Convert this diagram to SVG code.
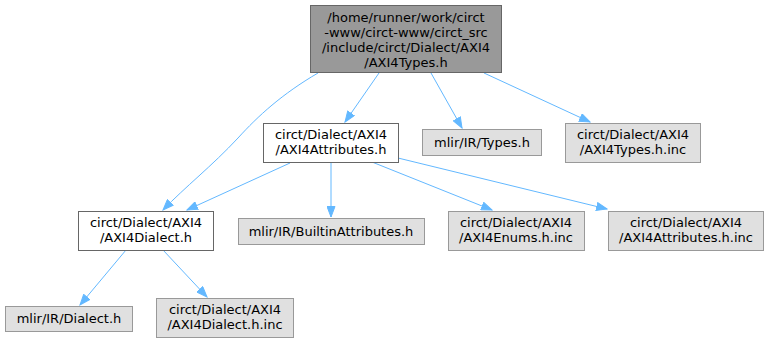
<svg xmlns="http://www.w3.org/2000/svg" width="769" height="344" viewBox="0 0 769 344">
<style>
.n rect{stroke:#999999;stroke-width:1;fill:#e0e0e0}
.w rect{fill:#ffffff;stroke:#666666}
.top rect{fill:#999999;stroke:#666666}
text{font-family:"DejaVu Sans",sans-serif;font-size:13px;fill:#000;text-anchor:middle}
.e path{fill:none;stroke:#63b8ff;stroke-width:1}
</style>
<defs>
<marker id="a" markerUnits="userSpaceOnUse" markerWidth="12" markerHeight="9" refX="11" refY="4.5" orient="auto">
<path d="M0.5,0.5 L11,4.5 L0.5,8.5 z" fill="#63b8ff" stroke="#63b8ff" stroke-width="1"/>
</marker>
</defs>
<g class="e" id="edges">
<path marker-end="url(#a)" d="M318,73 C282,94 258,116 238,138 C212,166 185,187 163,210"/>
<path marker-end="url(#a)" d="M379,73 L345,122"/>
<path marker-end="url(#a)" d="M431,73 L462,128"/>
<path marker-end="url(#a)" d="M484,73 L590,122"/>
<path marker-end="url(#a)" d="M290,163 L187,210"/>
<path marker-end="url(#a)" d="M331,162 L331,217"/>
<path marker-end="url(#a)" d="M372,162 L492,210"/>
<path marker-end="url(#a)" d="M398,158 L607,209"/>
<path marker-end="url(#a)" d="M126,250 L80,305"/>
<path marker-end="url(#a)" d="M163,250 L207,297"/>
</g>
<g id="n_top" class="n top"><rect x="310.5" y="5.5" width="191" height="67"/>
<text x="406" y="22">/home/runner/work/circt</text><text x="406" y="37">-www/circt-www/circt_src</text><text x="406" y="52">/include/circt/Dialect/AXI4</text><text x="406" y="67">/AXI4Types.h</text></g>
<g id="n_attr" class="n w"><rect x="263.5" y="123.5" width="135" height="39"/>
<text x="331" y="139">circt/Dialect/AXI4</text><text x="331" y="154">/AXI4Attributes.h</text></g>
<g id="n_types" class="n"><rect x="422.5" y="129.5" width="119" height="26"/>
<text x="482" y="147">mlir/IR/Types.h</text></g>
<g id="n_typesinc" class="n"><rect x="565.5" y="123.5" width="135" height="39"/>
<text x="633" y="139">circt/Dialect/AXI4</text><text x="633" y="154">/AXI4Types.h.inc</text></g>
<g id="n_dialect" class="n w"><rect x="78.5" y="211.5" width="135" height="39"/>
<text x="146" y="227">circt/Dialect/AXI4</text><text x="146" y="242">/AXI4Dialect.h</text></g>
<g id="n_builtin" class="n"><rect x="238.5" y="218.5" width="186" height="26"/>
<text x="331" y="236">mlir/IR/BuiltinAttributes.h</text></g>
<g id="n_enums" class="n"><rect x="448.5" y="211.5" width="136" height="39"/>
<text x="516" y="227">circt/Dialect/AXI4</text><text x="516" y="242">/AXI4Enums.h.inc</text></g>
<g id="n_attrinc" class="n"><rect x="608.5" y="211.5" width="155" height="39"/>
<text x="686" y="227">circt/Dialect/AXI4</text><text x="686" y="242">/AXI4Attributes.h.inc</text></g>
<g id="n_mlirdialect" class="n"><rect x="5.5" y="306.5" width="127" height="25"/>
<text x="69" y="323">mlir/IR/Dialect.h</text></g>
<g id="n_dialectinc" class="n"><rect x="156.5" y="298.5" width="137" height="39"/>
<text x="225" y="314">circt/Dialect/AXI4</text><text x="225" y="329">/AXI4Dialect.h.inc</text></g>
</svg>
